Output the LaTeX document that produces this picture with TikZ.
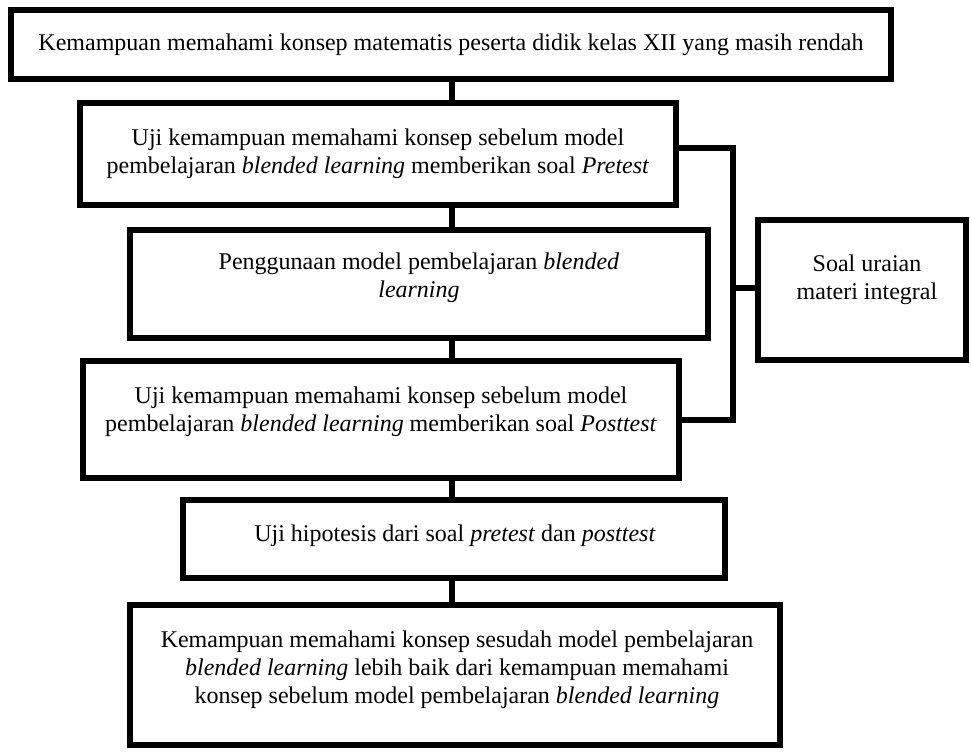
\documentclass[tikz,border=0pt]{standalone}
\usepackage{fontspec}
\setmainfont{Liberation Serif}
\usetikzlibrary{fit}
\begin{document}
\begin{tikzpicture}[x=0.5pt,y=-0.5pt,
  box/.style={draw=black,line width=2.8pt,inner sep=0pt,fill=white},
  txt/.style={align=center,inner sep=0pt,font=\fontsize{12}{14}\selectfont},
  link/.style={draw=black,line width=2.8pt}]
\useasboundingbox (0,0) rectangle (971,753);
% boxes
\node[box,fit={(11,10) (891,79)}] (b1) {};
\node[box,fit={(80,103) (676,205)}] (b2) {};
\node[box,fit={(130,230) (708,338)}] (b3) {};
\node[box,fit={(83,361) (679,478)}] (b4) {};
\node[box,fit={(183,500) (725,578)}] (b5) {};
\node[box,fit={(130,605) (780,745)}] (b6) {};
\node[box,fit={(758,220) (966,360)}] (b7) {};
% texts
\node[txt] (t1) at (451,45) {Kemampuan memahami konsep matematis peserta didik kelas XII yang masih rendah};
\node[txt] (t2) at (378,154) {Uji kemampuan memahami konsep sebelum model\\pembelajaran \textit{blended learning} memberikan soal \textit{Pretest}};
\node[txt] (t3) at (419,278) {Penggunaan model pembelajaran \textit{blended}\\\textit{learning}};
\node[txt] (t4) at (381,412) {Uji kemampuan memahami konsep sebelum model\\pembelajaran \textit{blended learning} memberikan soal \textit{Posttest}};
\node[txt] (t5) at (455,536) {Uji hipotesis dari soal \textit{pretest} dan \textit{posttest}};
\node[txt] (t6) at (457,670) {Kemampuan memahami konsep sesudah model pembelajaran\\\textit{blended learning} lebih baik dari kemampuan memahami\\konsep sebelum model pembelajaran \textit{blended learning}};
\node[txt] (t7) at (867,280) {Soal uraian\\materi integral};
% vertical connectors
\draw[link] (b1.south -| 452,0) -- (b2.north -| 452,0);
\draw[link] (b2.south -| 452,0) -- (b3.north -| 452,0);
\draw[link] (b3.south -| 452,0) -- (b4.north -| 452,0);
\draw[link] (b4.south -| 452,0) -- (b5.north -| 452,0);
\draw[link] (b5.south -| 452,0) -- (b6.north -| 452,0);
% bracket
\coordinate (top) at (733,148);
\coordinate (bot) at (733,420);
\draw[link] (b2.east |- top) -- (top) -- (bot) -- (b4.east |- bot);
\draw[link] (733,288) -- (b7.west |- 0,288);
\end{tikzpicture}
\end{document}
